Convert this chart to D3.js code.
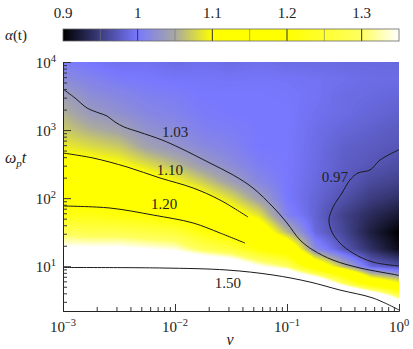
<!DOCTYPE html>
<html><head><meta charset="utf-8">
<script src="https://cdn.jsdelivr.net/npm/d3@7"></script>
<style>
body{margin:0;background:#fff}
svg{display:block}
text{font-family:"Liberation Serif","DejaVu Serif",serif;fill:#222}
</style>
</head><body>
<svg id="chart" width="413" height="349"></svg>
<script>
// ---------- data ----------
const nuValues = [0.001,0.00178,0.00316,0.00562,0.01,0.0178,0.0316,0.0562,0.1,0.178,0.316,0.562,1];
const tValues = [10000,5623,3162,1778,1000,562.3,316.2,177.8,100,56.23,31.62,17.78,10,5.623,3.162,1.778];
// alpha(t) on the grid: rows follow tValues, columns follow nuValues
const alphaGrid = [
 [1.005,0.998,0.993,0.995,0.990,0.993,0.990,0.993,0.990,0.990,0.988,0.988,0.987],
 [1.020,1.010,1.003,1.000,0.998,0.998,0.997,0.998,0.997,0.995,0.993,0.990,0.990],
 [1.040,1.022,1.015,1.008,1.005,1.000,1.000,1.000,0.999,0.996,0.990,0.988,0.985],
 [1.055,1.035,1.025,1.015,1.010,1.003,1.000,1.000,1.000,0.994,0.990,0.985,0.980],
 [1.070,1.055,1.045,1.026,1.020,1.008,1.005,1.000,1.000,0.992,0.985,0.980,0.975],
 [1.090,1.080,1.070,1.045,1.030,1.018,1.010,1.000,1.000,0.991,0.980,0.976,0.971],
 [1.115,1.110,1.100,1.080,1.060,1.035,1.020,1.005,1.000,0.990,0.978,0.972,0.965],
 [1.150,1.145,1.140,1.120,1.095,1.070,1.040,1.015,1.000,0.988,0.976,0.962,0.955],
 [1.180,1.180,1.170,1.160,1.140,1.110,1.080,1.040,1.000,0.985,0.968,0.950,0.940],
 [1.220,1.220,1.210,1.200,1.180,1.160,1.120,1.085,1.010,0.983,0.955,0.935,0.920],
 [1.290,1.280,1.280,1.270,1.260,1.210,1.180,1.140,1.060,0.988,0.960,0.925,0.900],
 [1.360,1.360,1.360,1.350,1.340,1.290,1.260,1.200,1.160,1.020,0.975,0.940,0.910],
 [1.480,1.480,1.480,1.470,1.470,1.450,1.420,1.350,1.300,1.150,1.060,0.985,0.968],
 [1.600,1.600,1.600,1.600,1.600,1.600,1.600,1.580,1.550,1.470,1.300,1.150,1.100],
 [1.700,1.700,1.700,1.700,1.700,1.700,1.700,1.700,1.700,1.680,1.650,1.550,1.350],
 [1.800,1.800,1.800,1.800,1.800,1.800,1.800,1.800,1.800,1.800,1.800,1.750,1.650]
];
// contour lines, [nu, t]
const contour103 = [[0.001,4010],[0.00128,2960],[0.00164,2110],[0.0021,1780],[0.00247,1610],[0.00291,1315],[0.00351,1110],[0.00478,937],[0.00766,715],[0.0111,545],[0.0205,328],[0.033,219],[0.0497,141],[0.075,74.1],[0.1,43.2],[0.1306,24.3],[0.1706,17.3],[0.2576,12.3],[0.449,9.42],[0.959,7.43],[1,7.3]];
const contour110 = [[0.001,460],[0.00185,389],[0.00373,287],[0.00734,198],[0.0145,141],[0.0252,94],[0.0449,52.8]];
const contour120 = [[0.001,76.7],[0.00263,71.6],[0.00637,56.5],[0.0145,43.2],[0.0252,30.8],[0.0422,21.9]];
const contour150 = [[0.001,9.58],[0.00766,9.42],[0.0291,8.8],[0.075,7.43],[0.1603,5.86],[0.297,4.47],[0.586,3.41],[1,2.28]];
const contour097 = [[1,515],[0.676,363],[0.551,259],[0.43,234],[0.365,185],[0.31,119],[0.258,74.1],[0.237,47.8],[0.252,31.8],[0.297,21.9],[0.388,15.6],[0.586,11.5],[1,10.1]];
const contourLines = [contour103, contour110, contour120, contour150, contour097];
const contourLabels = ["1.03","1.10","1.20","1.50","0.97"];
const contourLabelNu = [0.01,0.009,0.008,0.0297,0.268];
const contourLabelT = [937,259,82,5.66,205];
const xTickValues = [0.001,0.01,0.1,1];
const xTickExp = ["\u22123","\u22122","\u22121","0"];
const yTickValues = [10,100,1000,10000];
const yTickExp = ["1","2","3","4"];
const cbTickValues = [0.9,1,1.1,1.2,1.3];
const cbTickLabels = ["0.9","1","1.1","1.2","1.3"];
const cbMinorValues = [0.95,1.05,1.15,1.25];
const cmapStops = [0.9,1.0,1.05,1.1,1.2,1.3,1.35];
const cmapColors = ["#000000","#7878ff","#a8a8a2","#ffff00","#ffff00","#ffff60","#ffffff"];

// ---------- layout ----------
const svg = d3.select("#chart");
const X0 = 63, X1 = 399, Y0 = 62, Y1 = 311;
const x = d3.scaleLog().domain([0.001,1]).range([X0,X1]);
const y = d3.scaleLog().domain([2.2,10000]).range([Y1,Y0]);
const cmap = d3.scaleLinear().domain(cmapStops).range(cmapColors).clamp(true);

// ---------- heatmap ----------
const W = X1-X0, H = Y1-Y0;
const canvas = document.createElement("canvas");
canvas.width = W; canvas.height = H;
const ctx = canvas.getContext("2d");
const img = ctx.createImageData(W,H);
const gx = nuValues.map(v => x(v)-X0);
const gy = tValues.map(v => y(v)-Y0);
const lut = d3.range(0,501).map(i => d3.rgb(cmap(0.9 + i*0.001)));
function seg(arr, p){
  let i = 0;
  while(i < arr.length-2 && p > arr[i+1]) i++;
  let f = (p-arr[i])/(arr[i+1]-arr[i]);
  return [i, Math.max(0,Math.min(1,f))];
}
for(let py=0; py<H; py++){
  const [j, fy] = seg(gy, py+0.5);
  for(let px=0; px<W; px++){
    const [i, fx] = seg(gx, px+0.5);
    const a = alphaGrid[j][i], b = alphaGrid[j][i+1], c = alphaGrid[j+1][i], d = alphaGrid[j+1][i+1];
    const v = (a*(1-fx)+b*fx)*(1-fy) + (c*(1-fx)+d*fx)*fy;
    let k = Math.round((v-0.9)/0.001); k = Math.max(0,Math.min(500,k));
    const col = lut[k];
    const o = (py*W+px)*4;
    img.data[o]=col.r; img.data[o+1]=col.g; img.data[o+2]=col.b; img.data[o+3]=255;
  }
}
ctx.putImageData(img,0,0);
svg.append("image").attr("x",X0).attr("y",Y0).attr("width",W).attr("height",H)
  .attr("preserveAspectRatio","none").attr("href",canvas.toDataURL());

// ---------- contours ----------
const line = d3.line().x(d=>x(d[0])).y(d=>y(d[1])).curve(d3.curveCatmullRom.alpha(0.5));
const clip = svg.append("clipPath").attr("id","pc").append("rect").attr("x",X0).attr("y",Y0).attr("width",W).attr("height",H);
svg.append("g").attr("clip-path","url(#pc)").selectAll("path").data(contourLines).join("path")
  .attr("d",line).attr("fill","none").attr("stroke","#1a1a1a").attr("stroke-width",1);
svg.append("g").selectAll("text").data(contourLabels).join("text")
  .attr("x",(d,i)=>x(contourLabelNu[i])).attr("y",(d,i)=>y(contourLabelT[i]))
  .attr("dy","0.36em").attr("text-anchor","middle").attr("font-size",15).text(d=>d);

// ---------- axes ----------
const minorX = [];
[0.001,0.01,0.1].forEach(dec => d3.range(2,10).forEach(m => minorX.push(dec*m)));
const minorY = [];
[1,10,100,1000].forEach(dec => d3.range(2,10).forEach(m => { const v = dec*m; if(v>=2.2 && v<10000) minorY.push(v); }));

const gxA = svg.append("g").attr("transform",`translate(0,${Y1})`);
gxA.call(d3.axisBottom(x).tickValues(minorX).tickSize(-4).tickFormat(""));
gxA.append("g").call(d3.axisBottom(x).tickValues(xTickValues).tickSize(-7).tickFormat(""));
const gyA = svg.append("g").attr("transform",`translate(${X0},0)`);
gyA.call(d3.axisLeft(y).tickValues(minorY).tickSize(-4).tickFormat(""));
gyA.append("g").call(d3.axisLeft(y).tickValues(yTickValues).tickSize(-8).tickFormat(""));
svg.selectAll(".domain").attr("stroke","#222");
svg.selectAll(".tick line").attr("stroke","#333");
gyA.selectAll("g > g .domain").remove();
gxA.selectAll("g > g .domain").remove();

// x tick labels
const xl = svg.append("g").selectAll("text").data(xTickValues).join("text")
  .attr("x",d=>x(d)).attr("y",332).attr("text-anchor","middle").attr("font-size",15);
xl.append("tspan").text("10");
xl.append("tspan").attr("dy",-6).attr("font-size",10.5).text((d,i)=>xTickExp[i]);
// y tick labels
const yl = svg.append("g").selectAll("text").data(yTickValues).join("text")
  .attr("x",56).attr("y",d=>y(d)+6).attr("text-anchor","end").attr("font-size",15);
yl.append("tspan").text("10");
yl.append("tspan").attr("dy",-6).attr("font-size",10.5).text((d,i)=>yTickExp[i]);

// axis titles
svg.append("text").attr("x",230).attr("y",345).attr("text-anchor","middle")
  .attr("font-size",16).attr("font-style","italic").text("\u03bd");
const yt = svg.append("text").attr("x",5).attr("y",163).attr("font-size",16).attr("font-style","italic");
yt.append("tspan").text("\u03c9");
yt.append("tspan").attr("dy",4).attr("font-size",11).text("p");
yt.append("tspan").attr("dy",-4).text("t");

// ---------- colorbar ----------
const cb = d3.scaleLinear().domain([0.9,1.35]).range([X0,X1]);
const grad = svg.append("defs").append("linearGradient").attr("id","cbg");
grad.selectAll("stop").data(d3.range(0,91)).join("stop")
  .attr("offset",d=>(d/90*100)+"%").attr("stop-color",d=>cmap(0.9+d*0.005));
svg.append("rect").attr("x",X0).attr("y",29).attr("width",X1-X0).attr("height",12)
  .attr("fill","url(#cbg)");
svg.append("g").selectAll("line").data(cbMinorValues).join("line")
  .attr("x1",d=>cb(d)).attr("x2",d=>cb(d)).attr("y1",29).attr("y2",41)
  .attr("stroke","#777").attr("stroke-opacity",0.6).attr("stroke-width",1);
svg.append("g").selectAll("line").data(cbTickValues.slice(1)).join("line")
  .attr("x1",d=>cb(d)).attr("x2",d=>cb(d)).attr("y1",29).attr("y2",41)
  .attr("stroke","#333").attr("stroke-width",1);
svg.append("rect").attr("x",X0).attr("y",29).attr("width",X1-X0).attr("height",12)
  .attr("fill","none").attr("stroke","#666").attr("stroke-width",0.8);
svg.append("g").selectAll("text").data(cbTickValues).join("text")
  .attr("x",d=>cb(d)).attr("y",18).attr("text-anchor","middle").attr("font-size",15)
  .text((d,i)=>cbTickLabels[i]);
const al = svg.append("text").attr("x",5).attr("y",40).attr("font-size",15);
al.append("tspan").attr("font-style","italic").text("\u03b1");
al.append("tspan").text("(t)");
</script>
</body></html>
